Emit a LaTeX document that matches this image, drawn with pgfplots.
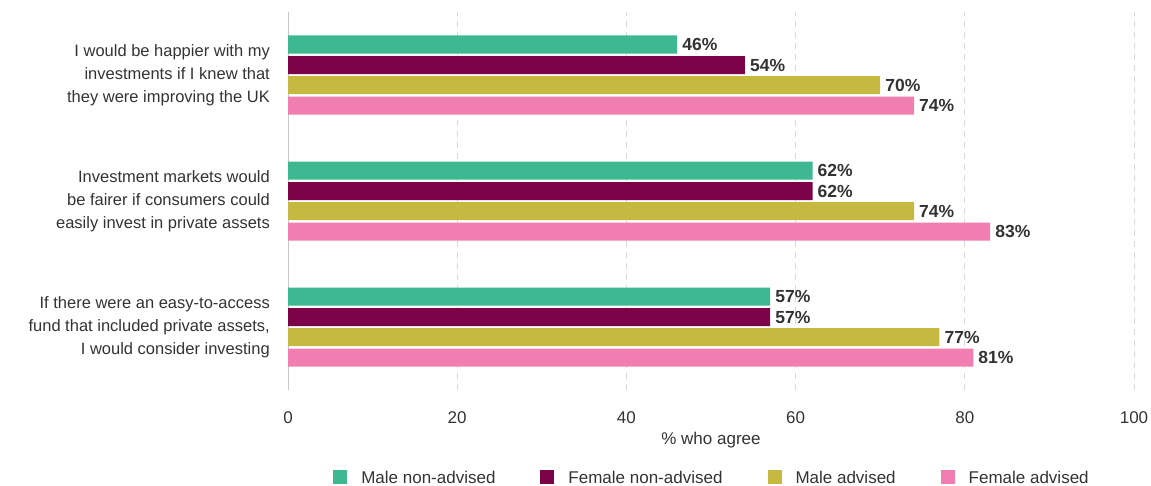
\documentclass[border=0pt]{standalone}
\usepackage{pgfplots}
\pgfplotsset{compat=1.18}
\usepackage{fontspec}
\setmainfont{Liberation Sans}
\definecolor{cgreen}{HTML}{3DB891}
\definecolor{cmaroon}{HTML}{7D0349}
\definecolor{colive}{HTML}{C5B941}
\definecolor{cpink}{HTML}{F07EB0}
\definecolor{ctext}{HTML}{333333}
\begin{document}
\begin{tikzpicture}
\useasboundingbox (0,0) rectangle (1151pt,-486pt);
\begin{axis}[
  at={(288pt,-390pt)}, anchor=south west,
  scale only axis, width=846pt, height=378pt,
  xbar, bar width=18pt,
  xmin=0, xmax=100, ymin=-0.5, ymax=2.5,
  xtick={0,20,40,60,80,100},
  ytick={0,1,2},
  yticklabels={{If there were an easy-to-access\\fund that included private assets,\\I would consider investing},
               {Investment markets would\\be fairer if consumers could\\easily invest in private assets},
               {I would be happier with my\\investments if I knew that\\they were improving the UK}},
  axis lines*=left,
  x axis line style={draw=none},
  y axis line style={draw=black!22, line width=1pt, -},
  major tick length=0pt,
  xmajorgrids, grid style={draw=black!15, dash pattern=on 6pt off 5pt, line width=0.8pt},
  /pgf/number format/assume math mode=true,
  tick label style={font=\fontsize{17}{20}\selectfont, text=ctext},
  yticklabel style={align=right, font=\fontsize{16.5}{23}\selectfont, inner sep=0pt, xshift=-18pt},
  xticklabel style={inner sep=0pt, anchor=north, yshift=-21pt},
  xlabel={\% who agree},
  xlabel style={at={(axis description cs:0.5,0)}, anchor=center, yshift=-50pt, font=\fontsize{17}{20}\selectfont, text=ctext},
  point meta=x,
  nodes near coords={\pgfmathprintnumber{\pgfplotspointmeta}\%},
  nodes near coords style={anchor=west, font=\bfseries\fontsize{17.5}{20}\selectfont, text=ctext, inner sep=0pt, xshift=5pt},
  legend columns=4,
  legend style={at={(axis description cs:0.5,0)}, anchor=center, yshift=-87pt, draw=none, fill=none,
    font=\fontsize{17}{20}\selectfont, text=ctext,
    /tikz/every odd column/.append style={column sep=14pt},
    /tikz/every even column/.append style={column sep=45pt},
    nodes={inner sep=0pt, text depth=0pt}},
  legend image code/.code={\fill[#1] (0pt,-7pt) rectangle (14pt,7pt);},
]
\addplot[fill=cgreen, draw=none, bar shift=30.5pt] coordinates {(57,0) (62,1) (46,2)};
\addplot[fill=cmaroon, draw=none, bar shift=10pt] coordinates {(57,0) (62,1) (54,2)};
\addplot[fill=colive, draw=none, bar shift=-10pt] coordinates {(77,0) (74,1) (70,2)};
\addplot[fill=cpink, draw=none, bar shift=-30.5pt] coordinates {(81,0) (83,1) (74,2)};
\legend{Male non-advised, Female non-advised, Male advised, Female advised}
\end{axis}
\end{tikzpicture}
\end{document}
